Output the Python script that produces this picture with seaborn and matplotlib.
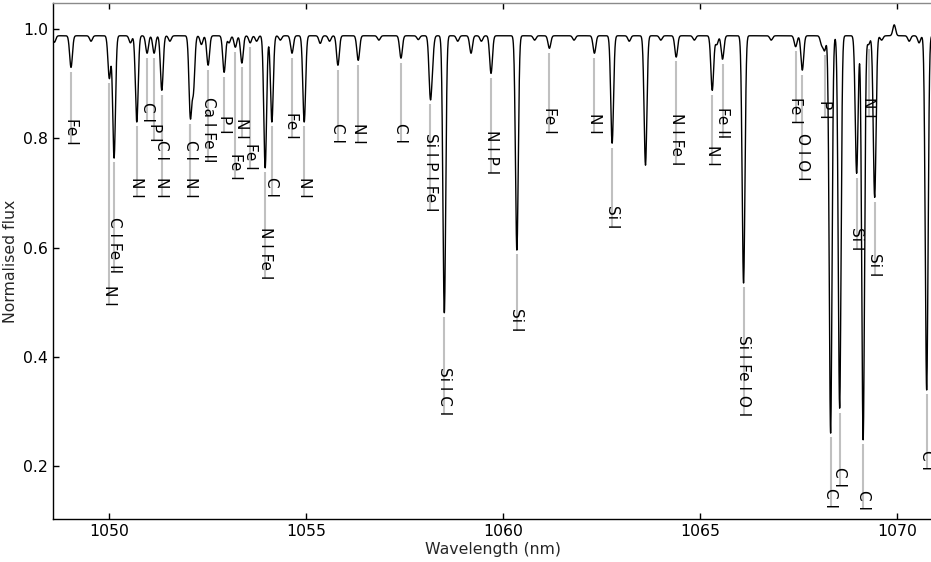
import numpy as np
import pandas as pd
import matplotlib
matplotlib.use("Agg")
import matplotlib.pyplot as plt
import seaborn as sns

# ---------------- data ----------------
continuum = 0.988

# absorption features: centre wavelength (nm) and flux at the line core
feature_wl = [1048.62, 1049.043, 1049.55, 1050.015, 1050.135, 1050.55, 1050.711, 1050.972,
              1051.150, 1051.345, 1051.55, 1052.069, 1052.147, 1052.35, 1052.520, 1052.926,
              1053.05, 1053.210, 1053.376, 1053.586, 1053.75, 1053.967, 1054.137, 1054.35,
              1054.647, 1054.957, 1055.363, 1055.6, 1055.812, 1056.327, 1056.85, 1057.411,
              1057.85, 1058.155, 1058.206, 1058.510, 1058.85, 1059.188, 1059.45, 1059.695,
              1060.350, 1060.8, 1061.175, 1061.8, 1062.317, 1062.766, 1063.2, 1063.612,
              1064.0, 1064.391, 1064.85, 1065.305, 1065.42, 1065.566, 1066.099, 1066.8,
              1067.420, 1067.589, 1068.08, 1068.155, 1068.307, 1068.536, 1068.967, 1069.132,
              1069.270, 1069.424, 1069.6, 1069.92, 1070.3, 1070.55, 1070.743]
feature_flux = [0.976, 0.930, 0.978, 0.910, 0.764, 0.975, 0.830, 0.956,
                0.956, 0.888, 0.978, 0.843, 0.892, 0.972, 0.934, 0.921,
                0.975, 0.967, 0.938, 0.975, 0.978, 0.746, 0.830, 0.980,
                0.956, 0.830, 0.974, 0.978, 0.934, 0.943, 0.980, 0.947,
                0.981, 0.883, 0.952, 0.480, 0.978, 0.956, 0.978, 0.919,
                0.595, 0.980, 0.965, 0.980, 0.956, 0.791, 0.978, 0.751,
                0.980, 0.949, 0.980, 0.888, 0.972, 0.945, 0.535, 0.980,
                0.968, 0.925, 0.972, 0.962, 0.260, 0.306, 0.736, 0.248,
                0.972, 0.692, 0.980, 1.008, 0.978, 0.975, 0.339]

# line identifications: wavelength, text, flux where the text starts
label_wl = [1049.043, 1050.015, 1050.135, 1050.711, 1050.972, 1051.150, 1051.345, 1051.345,
            1052.069, 1052.069, 1052.520, 1052.926, 1053.210, 1053.376, 1053.586, 1053.967,
            1054.137, 1054.647, 1054.957, 1055.812, 1056.327, 1057.411, 1058.155, 1058.510,
            1059.695, 1060.350, 1061.175, 1062.317, 1062.766, 1064.391, 1065.305, 1065.566,
            1066.099, 1067.420, 1067.589, 1068.155, 1068.307, 1068.536, 1068.967, 1069.132,
            1069.270, 1069.424, 1070.743]
label_text = ["Fe I", "N I", "C I Fe II", "N I", "C I", "P I", "C I", "N I",
              "C I", "N I", "Ca I Fe II", "P I", "Fe I", "N I", "Fe I", "N I Fe I",
              "C I", "Fe I", "N I", "C I", "N I", "C I", "Si I P I Fe I", "Si I C I",
              "N I P I", "Si I", "Fe I", "N I", "Si I", "N I Fe I", "N I", "Fe II",
              "Si I Fe I O I", "Fe I", "O I O I", "P I", "C I", "C I", "Si I", "C I",
              "N I", "Si I", "C I"]
label_y = [0.837, 0.531, 0.656, 0.729, 0.866, 0.828, 0.797, 0.729,
           0.797, 0.729, 0.876, 0.843, 0.773, 0.837, 0.791, 0.638,
           0.729, 0.848, 0.729, 0.828, 0.828, 0.828, 0.810, 0.381,
           0.815, 0.489, 0.857, 0.846, 0.678, 0.846, 0.788, 0.857,
           0.440, 0.876, 0.810, 0.870, 0.160, 0.198, 0.638, 0.156,
           0.876, 0.590, 0.229]

# ---------------- build spectrum from the line list ----------------
sigma = 0.035
wl = np.arange(1048.4, 1071.2, 0.004)
flux = np.full_like(wl, continuum)
for c, f in zip(feature_wl, feature_flux):
    depth = 1.0 - f / continuum
    flux *= 1.0 - depth * np.exp(-0.5 * ((wl - c) / sigma) ** 2)
df = pd.DataFrame({"Wavelength (nm)": wl, "Normalised flux": flux})

# ---------------- plot ----------------
sns.set_theme(style="white")
plt.rcParams["font.family"] = ["DejaVu Sans"]
plt.rcParams["xtick.direction"] = "in"
plt.rcParams["ytick.direction"] = "in"

fig = plt.figure(figsize=(9.31, 5.62), dpi=100)
ax = fig.add_axes([53 / 931, 43 / 562, 1.0 - 53 / 931 + 0.002, (559 - 43) / 562])

sns.lineplot(data=df, x="Wavelength (nm)", y="Normalised flux", ax=ax,
             color="black", lw=1.0, estimator=None, sort=False, zorder=3)

ax.set_xlim(1048.586, 1070.9)
ax.set_ylim(0.103, 1.048)
ax.set_xticks([1050, 1055, 1060, 1065, 1070])
ax.set_yticks([0.2, 0.4, 0.6, 0.8, 1.0])
ax.set_yticklabels(["0.2", "0.4", "0.6", "0.8", "1.0"])
ax.tick_params(axis="both", which="both", direction="in", length=4, width=1,
               colors="black", labelsize=11.3, top=True, right=False,
               bottom=True, left=True)
ax.set_xlabel("Wavelength (nm)", fontsize=11.3, labelpad=2)
ax.set_ylabel("Normalised flux", fontsize=11.3, labelpad=4)

for side in ["left", "bottom"]:
    ax.spines[side].set_color("black")
    ax.spines[side].set_linewidth(1.0)
ax.spines["top"].set_color("#8a8a8a")
ax.spines["top"].set_linewidth(1.0)
ax.spines["right"].set_visible(False)

texts = []
for lw_, txt, ly in zip(label_wl, label_text, label_y):
    t = ax.text(lw_, ly, txt, rotation=270, ha="center", va="top",
                fontsize=11, color="black", zorder=4)
    texts.append(t)

fig.canvas.draw()
renderer = fig.canvas.get_renderer()
inv = ax.transData.inverted()
for lw_, t in zip(label_wl, texts):
    near = np.abs(wl - lw_) < 0.02
    fmin = flux[near].min()
    bb = t.get_window_extent(renderer)
    ybot = inv.transform((0, bb.y0 + 1))[1]
    ax.plot([lw_, lw_], [fmin - 0.008, ybot], color="#c0c0c0", lw=1.5,
            zorder=1, solid_capstyle="butt")

fig.savefig("out.png", dpi=100)
